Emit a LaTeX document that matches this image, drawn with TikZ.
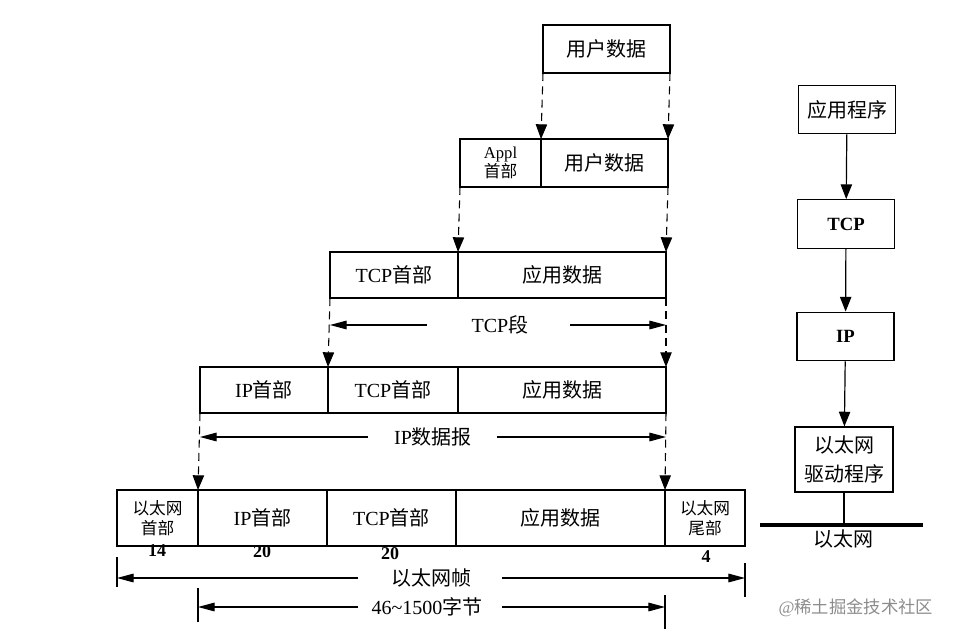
\documentclass[tikz,border=0pt]{standalone}
\usepackage{fontspec}
\setmainfont{Liberation Serif}
\newfontfamily\cjk{Noto Sans CJK SC}
\usetikzlibrary{arrows.meta,positioning}
\newcommand{\zh}[1]{{\cjk #1}}

\begin{document}
\begin{tikzpicture}[x=0.75pt,y=-0.75pt,
    cell/.style={draw, line width=0.9pt, inner sep=0pt, outer sep=0pt, minimum height=#1, align=center, font=\fontsize{15}{17}\selectfont},
    cell/.default=36pt,
    small/.style={font=\fontsize{12.5}{15}\selectfont},
    lbl/.style={inner sep=0pt, font=\fontsize{15}{17}\selectfont},
    num/.style={inner sep=0pt, font=\fontsize{13.5}{15}\selectfont\bfseries},
    layer/.style={draw, line width=0.9pt, inner sep=0pt, minimum width=72.75pt, minimum height=36.5pt, align=center, font=\fontsize{15}{22}\selectfont},
    dsh/.style={dashed, dash pattern=on 6pt off 4pt, line width=0.8pt, -{Triangle[length=11pt,width=8.5pt]}},
    dim/.style={line width=0.8pt, -{Triangle[length=12.5pt,width=6.5pt]}},
    arr/.style={line width=0.9pt, -{Triangle[length=11pt,width=8.5pt]}}
]
\useasboundingbox (0,0) rectangle (956,639);

\node[cell, minimum width=95.25pt] (ud1) at (606.5,49) {\zh{用户数据}};

\node[cell, small, minimum width=60.75pt, anchor=west, font=\fontsize{12.5}{14}\selectfont] (appl) at (460,163) {Appl\\\zh{首部}};
\node[cell, minimum width=95.25pt, right=0pt of appl] (ud2) {\zh{用户数据}};

\node[cell=34.5pt, minimum width=96pt, anchor=west] (tcph3) at (330,275) {TCP\zh{首部}};
\node[cell=34.5pt, minimum width=156pt, right=0pt of tcph3] (app3) {\zh{应用数据}};

\node[cell=34.5pt, minimum width=96pt, anchor=west] (iph4) at (200,390) {IP\zh{首部}};
\node[cell=34.5pt, minimum width=97.5pt, right=0pt of iph4] (tcph4) {TCP\zh{首部}};
\node[cell=34.5pt, minimum width=156pt, right=0pt of tcph4] (app4) {\zh{应用数据}};

\node[cell=42pt, small, minimum width=60.75pt, anchor=west] (eh5) at (117,518) {\zh{以太网}\\\zh{首部}};
\node[cell=42pt, minimum width=96.75pt, right=0pt of eh5] (iph5) {IP\zh{首部}};
\node[cell=42pt, minimum width=96.75pt, right=0pt of iph5] (tcph5) {TCP\zh{首部}};
\node[cell=42pt, minimum width=156.75pt, right=0pt of tcph5] (app5) {\zh{应用数据}};
\node[cell=42pt, small, minimum width=60pt, right=0pt of app5] (et5) {\zh{以太网}\\\zh{尾部}};

\draw[dsh] (ud1.south west) -- (ud2.north west);
\draw[dsh] (ud1.south east) -- (ud2.north east);
\draw[dsh] (appl.south west) -- (app3.north west);
\draw[dsh] (ud2.south east) -- (app3.north east);
\draw[dsh] (tcph3.south west) -- (tcph4.north west);
\draw[dsh] (app3.south east) -- (app4.north east);
\draw[dsh] (iph4.south west) -- (iph5.north west);
\draw[dsh] (app4.south east) -- (app5.north east);

\node[lbl] (tcpseg) at (500,325) {TCP\zh{段}};
\coordinate (tcpL) at (427,325);
\coordinate (tcpR) at (570,325);
\draw[dim] (tcpL) -- (tcph3.south west |- tcpL);
\draw[dim] (tcpR) -- (app3.south east |- tcpR);

\node[lbl] (ipdg) at (433,437) {IP\zh{数据报}};
\coordinate (ipL) at (368,437);
\coordinate (ipR) at (497,437);
\draw[dim] (ipL) -- (iph4.south west |- ipL);
\draw[dim] (ipR) -- (app4.south east |- ipR);

\node[num] (n14) at (157,551) {14};
\node[num] (n20a) at (262,552) {20};
\node[num] (n20b) at (390,554) {20};
\node[num] (n4) at (706,557) {4};

\node[lbl] (frame) at (431,578) {\zh{以太网帧}};
\coordinate (frL) at (358,578);
\coordinate (frR) at (502,578);
\draw[dim] (frL) -- (eh5.south west |- frL);
\draw[dim] (frR) -- (et5.south east |- frR);
\draw[line width=0.8pt] (eh5.south west) ++(0,11) -- ++(0,30);
\draw[line width=0.8pt] (et5.south east) ++(0,17) -- ++(0,34);

\node[lbl] (bytes) at (427,607) {46\textasciitilde1500\zh{字节}};
\coordinate (byL) at (358,607);
\coordinate (byR) at (502,607);
\draw[dim] (byL) -- (iph5.south west |- byL);
\draw[dim] (byR) -- (app5.south east |- byR);
\draw[line width=0.8pt] (iph5.south west) ++(0,42) -- ++(0,34);
\draw[line width=0.8pt] (app5.south east) ++(0,49) -- ++(0,34);

\node[layer] (app) at (847,109.5) {\zh{应用程序}};
\node[layer, font=\fontsize{14}{16}\selectfont\bfseries] (tcp) at (846,224) {TCP};
\node[layer, font=\fontsize{14}{16}\selectfont\bfseries] (ip) at (845.5,336.5) {IP};
\node[layer, minimum width=73.5pt, minimum height=48.75pt] (drv) at (844,459.5) {\zh{以太网}\\\zh{驱动程序}};

\draw[arr] (app) -- (tcp);
\draw[arr] (tcp) -- (ip);
\draw[arr] (ip) -- (drv);

\coordinate (busL) at (760,525);
\coordinate (busR) at (923,525);
\draw[line width=3pt] (busL) -- (busR);
\draw[line width=0.9pt] (drv.south) -- (drv.south |- busL);
\node[lbl] (eth) at (843,539) {\zh{以太网}};

\node[inner sep=0pt, text=black!45, font=\fontsize{13}{15}\selectfont] (wm) at (856,608) {@\zh{稀土掘金技术社区}};
\end{tikzpicture}
\end{document}
